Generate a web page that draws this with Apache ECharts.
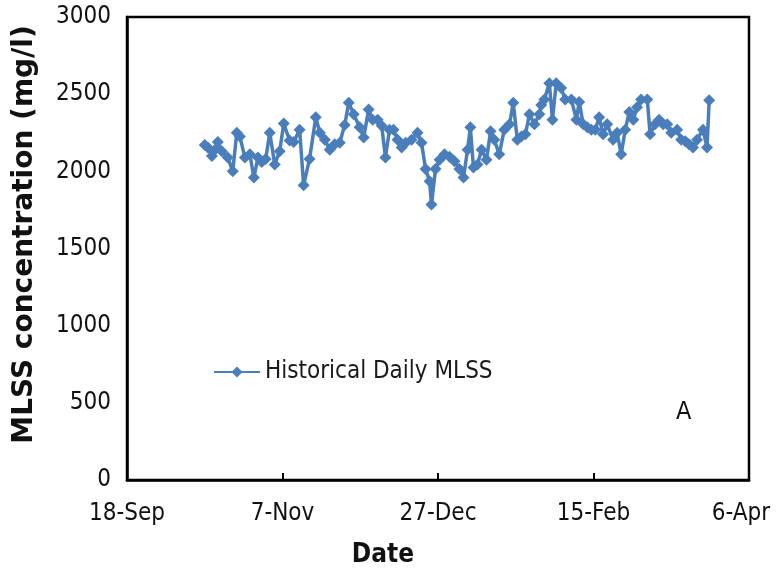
<!DOCTYPE html>
<html>
<head>
<meta charset="utf-8">
<script src="https://cdn.jsdelivr.net/npm/echarts@6/dist/echarts.min.js"></script>
<style>
html,body{margin:0;padding:0;background:#fff;}
#chart{width:782px;height:573px;}
</style>
</head>
<body>
<div id="chart"></div>
<script>
// Days after 18-Sep for each daily sample
const dayOffsets = [25.0,26.0,27.3,28.3,29.2,30.5,32.4,34.0,35.3,36.3,
  37.9,39.5,40.8,42.1,43.3,44.6,45.9,47.5,49.1,50.4,
  52.3,53.6,55.5,56.8,58.7,60.7,62.0,63.6,65.2,66.8,
  68.4,70.0,71.3,72.9,74.8,76.1,77.7,79.0,80.6,81.9,
  83.1,84.4,85.7,87.0,88.3,89.6,91.5,93.4,94.7,96.0,
  97.3,97.9,99.2,100.5,102.1,103.7,105.3,106.9,108.2,109.5,
  110.4,111.4,112.7,114.0,115.6,116.9,118.1,119.7,121.3,123.0,
  124.2,125.5,126.8,128.1,129.4,131.0,132.6,133.2,134.2,135.8,
  136.8,138.0,139.6,140.9,142.9,144.5,145.4,146.7,148.0,149.3,
  150.6,151.8,153.1,154.4,156.3,157.6,158.9,160.2,161.5,162.8,
  164.0,165.3,167.3,168.2,169.8,171.1,172.4,173.7,175.0,176.9,
  178.2,179.5,180.7,182.0,183.3,185.2,186.5,187.2];
const mlss = [2170,2155,2100,2140,2190,2130,2090,2000,2250,2225,
  2090,2110,1960,2090,2060,2080,2250,2045,2130,2310,
  2200,2190,2270,1910,2080,2350,2250,2205,2140,2175,
  2185,2300,2445,2370,2285,2220,2400,2335,2335,2295,
  2090,2270,2270,2205,2155,2185,2205,2250,2185,2015,
  1935,1785,2015,2075,2110,2095,2065,2015,1960,2140,
  2285,2025,2045,2140,2075,2260,2205,2110,2270,2305,
  2445,2205,2225,2240,2370,2305,2370,2430,2465,2570,
  2335,2570,2540,2465,2465,2335,2450,2305,2285,2270,
  2270,2350,2240,2305,2205,2250,2110,2270,2385,2335,
  2415,2465,2465,2240,2305,2335,2305,2305,2250,2270,
  2205,2195,2175,2155,2205,2270,2155,2460];
const xTickLabels = ['18-Sep','7-Nov','27-Dec','15-Feb','6-Apr'];
const seriesName = 'Historical Daily MLSS';

const FONT = '"DejaVu Sans Condensed","Liberation Sans Narrow","Liberation Sans",sans-serif';
const chart = echarts.init(document.getElementById('chart'), null, {renderer:'canvas'});
const points = dayOffsets.map((d,i)=>[d, mlss[i]]);
chart.setOption({
  animation:false,
  backgroundColor:'#fff',
  grid:{left:127,right:33,top:17,bottom:91,show:true,borderColor:'#000',borderWidth:2.5,backgroundColor:'transparent'},
  legend:{
    left:208, top:355, itemWidth:46, itemHeight:14, itemGap:7,
    textStyle:{fontFamily:FONT,fontSize:24,color:'#1a1a1a'},
    data:[{name:seriesName}]
  },
  xAxis:{
    type:'value', min:0, max:200, interval:50,
    name:'Date', nameLocation:'middle', nameGap:62,
    nameTextStyle:{fontFamily:FONT,fontSize:26,fontWeight:'bold',color:'#111',padding:[0,110,0,0]},
    axisLine:{show:true,lineStyle:{color:'#000',width:2.5}},
    axisTick:{show:true,inside:true,length:7,lineStyle:{color:'#000',width:2}},
    splitLine:{show:false},
    axisLabel:{margin:22,fontFamily:FONT,fontSize:24,color:'#111',
      formatter:v=>{
        const i = Math.round(v/50);
        return i === xTickLabels.length-1 ? '{last|'+xTickLabels[i]+'}' : xTickLabels[i];
      },
      rich:{last:{fontFamily:FONT,fontSize:24,color:'#111',padding:[0,16,0,0]}}
    }
  },
  yAxis:{
    type:'value', min:0, max:3000, interval:500,
    name:'MLSS concentration (mg/l)', nameLocation:'middle', nameGap:88, nameRotate:90,
    nameTextStyle:{fontFamily:'"DejaVu Sans",sans-serif',fontSize:28,fontWeight:'bold',color:'#111',padding:[0,0,0,28]},
    axisLine:{show:true,lineStyle:{color:'#000',width:2.5}},
    axisTick:{show:false},
    splitLine:{show:false},
    axisLabel:{margin:16,fontFamily:FONT,fontSize:24,color:'#111',formatter:v=>String(v)}
  },
  series:[{
    name:seriesName, type:'line', data:points,
    symbol:'diamond', symbolSize:12, showSymbol:true,
    lineStyle:{color:'#4A7EBB',width:3.5},
    itemStyle:{color:'#4A7EBB'}
  }],
  graphic:[{type:'text', left:676, top:400,
    style:{text:'A', fontFamily:FONT, fontSize:25, fill:'#111'}}]
});
</script>
</body>
</html>
